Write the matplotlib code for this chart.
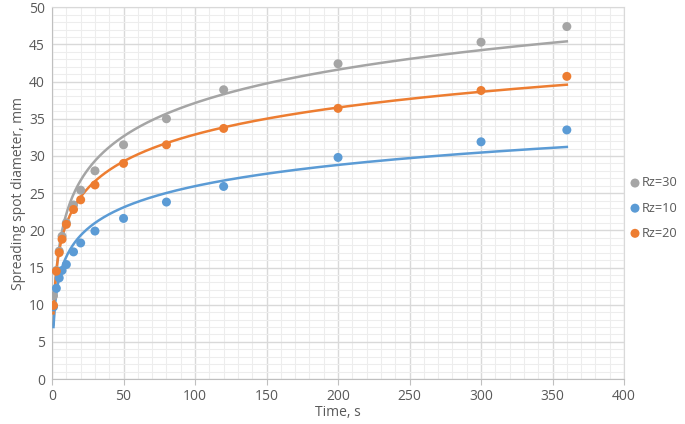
import numpy as np
import matplotlib
matplotlib.use("Agg")
import matplotlib.pyplot as plt
from matplotlib.ticker import MultipleLocator

# time points, s
t = [1, 3, 5, 7, 10, 15, 20, 30, 50, 80, 120, 200, 300, 360]
# spreading spot diameter, mm
rz30 = [11.2, 14.6, 17.2, 19.2, 21.0, 23.4, 25.4, 28.0, 31.5, 35.0, 38.9, 42.4, 45.3, 47.4]
rz10 = [9.7, 12.2, 13.6, 14.6, 15.4, 17.1, 18.3, 19.9, 21.6, 23.8, 25.9, 29.8, 31.9, 33.5]
rz20 = [9.9, 14.5, 17.0, 18.8, 20.8, 22.8, 24.1, 26.1, 29.0, 31.5, 33.7, 36.4, 38.8, 40.7]

series = [("Rz=30", rz30, "#A5A5A5"), ("Rz=10", rz10, "#5B9BD5"), ("Rz=20", rz20, "#ED7D31")]

plt.rcParams['font.family'] = ['Open Sans', 'DejaVu Sans']
fig = plt.figure(figsize=(6.85, 4.24), dpi=100)
ax = fig.add_axes([0.076, 0.106, 0.835, 0.877])

tt = np.linspace(min(t), max(t), 400)
for name, y, c in series:
    # logarithmic trendline, like excel
    b, a = np.polyfit(np.log(t), y, 1)
    ax.plot(tt, a + b*np.log(tt), color=c, lw=1.8, zorder=3)
for name, y, c in series:
    ax.scatter(t, y, s=42, color=c, zorder=4, label=name, edgecolors='none')

ax.set_xlim(0, 400)
ax.set_ylim(0, 50)
ax.xaxis.set_major_locator(MultipleLocator(50))
ax.yaxis.set_major_locator(MultipleLocator(5))
ax.xaxis.set_minor_locator(MultipleLocator(10))
ax.yaxis.set_minor_locator(MultipleLocator(1))
ax.grid(which='major', color='#D9D9D9', lw=1.0)
ax.grid(which='minor', color='#EDEDED', lw=0.8)
ax.set_axisbelow(True)
for s in ax.spines.values():
    s.set_color('#D9D9D9')
ax.spines['left'].set_color('#BFBFBF')
ax.spines['bottom'].set_color('#BFBFBF')
ax.tick_params(which='both', length=0, colors='#595959', labelsize=10, pad=5)
ax.tick_params(axis='x', which='major', length=4, color='#BFBFBF', pad=3)
ax.set_xlabel("Time, s", fontsize=10, color='#595959', labelpad=1)
ax.set_ylabel("Spreading spot diameter, mm", fontsize=10, color='#595959', labelpad=2)

ax.legend(loc='upper left', bbox_to_anchor=(1.008, 0.545), frameon=False, fontsize=9.2,
          handletextpad=0.05, handlelength=1.0, labelspacing=0.95, markerscale=1.0,
          labelcolor='#595959', borderaxespad=0, borderpad=0)

fig.savefig("out.png", dpi=100)
